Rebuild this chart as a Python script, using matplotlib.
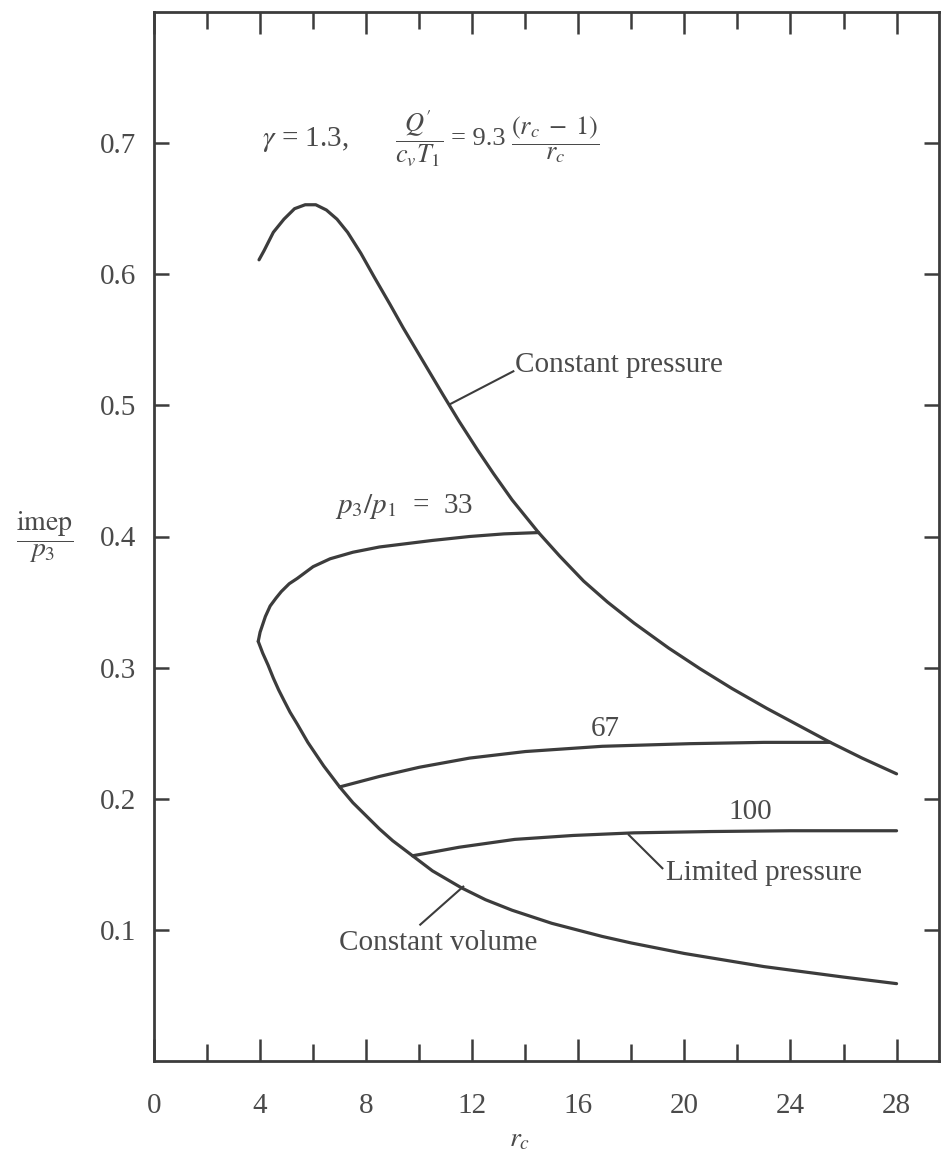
import numpy as np
import matplotlib
matplotlib.use("Agg")
import matplotlib.pyplot as plt
from matplotlib.ticker import FixedLocator

plt.rcParams['font.family'] = ['Liberation Serif', 'DejaVu Serif']
plt.rcParams['mathtext.fontset'] = 'stix'

ink = '#3c3c3c'
txt = '#4a4a4a'

# curves: r_c, imep/p3
cp_r = [3.96, 4.15, 4.5, 4.9, 5.3, 5.7, 6.1, 6.5, 6.9, 7.3, 7.8, 8.3, 8.9, 9.4,
        9.9, 10.4, 10.9, 11.5, 12.2, 12.8, 13.5, 14.5, 15.3, 16.2, 17.1, 18.1,
        19.4, 20.6, 21.8, 23.1, 24.3, 25.5, 26.7, 28.0]
cp_y = [0.611, 0.618, 0.632, 0.642, 0.650, 0.653, 0.653, 0.649, 0.642, 0.632,
        0.616, 0.598, 0.577, 0.559, 0.542, 0.525, 0.508, 0.488, 0.466, 0.448,
        0.428, 0.403, 0.385, 0.366, 0.350, 0.334, 0.315, 0.299, 0.284, 0.269,
        0.256, 0.243, 0.231, 0.219]

cv_r = [3.93, 4.1, 4.3, 4.5, 4.7, 4.9, 5.13, 5.4, 5.8, 6.1, 6.4, 6.7, 7.0, 7.5,
        8.0, 8.5, 9.0, 9.75, 10.5, 11.6, 12.5, 13.5, 15.0, 16.9, 18.0, 19.0,
        20.0, 21.5, 23.0, 24.5, 26.0, 28.0]
cv_y = [0.320, 0.311, 0.302, 0.292, 0.283, 0.275, 0.266, 0.257, 0.243, 0.234,
        0.225, 0.217, 0.209, 0.197, 0.187, 0.177, 0.168, 0.1565, 0.145, 0.132,
        0.123, 0.115, 0.105, 0.095, 0.090, 0.086, 0.082, 0.077, 0.072, 0.068,
        0.064, 0.059]

p33_r = [3.93, 4.0, 4.2, 4.38, 4.6, 4.8, 5.1, 5.4, 6.0, 6.64, 7.5, 8.5, 9.3,
         10.5, 11.9, 13.2, 14.5]
p33_y = [0.320, 0.327, 0.339, 0.347, 0.353, 0.358, 0.364, 0.368, 0.377, 0.383,
         0.388, 0.392, 0.394, 0.397, 0.400, 0.402, 0.403]

p67_r = [7.0, 8.5, 10.0, 11.9, 14.0, 16.9, 20.2, 23.0, 25.5]
p67_y = [0.209, 0.217, 0.224, 0.231, 0.236, 0.240, 0.242, 0.243, 0.243]

p100_r = [9.75, 11.5, 13.6, 15.8, 18.1, 21.0, 24.0, 28.0]
p100_y = [0.1565, 0.163, 0.169, 0.172, 0.174, 0.175, 0.1756, 0.1756]

fig = plt.figure(figsize=(9.44, 11.62), dpi=100)
ax = fig.add_axes([154/944, 1-1061/1162, (939-154)/944, (1061-12)/1162])

for xs, ys in [(cp_r, cp_y), (cv_r, cv_y), (p33_r, p33_y), (p67_r, p67_y), (p100_r, p100_y)]:
    ax.plot(xs, ys, color=ink, lw=2.3, solid_capstyle='round', solid_joinstyle='round')

ax.set_xlim(0, 29.6)
ax.set_ylim(0, 0.8)

ax.xaxis.set_major_locator(FixedLocator(np.arange(0, 29, 4)))
ax.xaxis.set_minor_locator(FixedLocator(np.arange(2, 27, 4)))
ax.yaxis.set_major_locator(FixedLocator([0.1, 0.2, 0.3, 0.4, 0.5, 0.6, 0.7]))
ax.set_yticklabels(['0.1', '0.2', '0.3', '0.4', '0.5', '0.6', '0.7'])

ax.tick_params(which='both', direction='in', top=True, right=True, colors=ink,
               labelcolor=txt, labelsize=21, width=1.8)
ax.tick_params(axis='x', which='major', length=16, pad=23)
ax.tick_params(axis='x', which='minor', length=12)
ax.tick_params(axis='y', which='major', length=11, pad=13)
for s in ax.spines.values():
    s.set_color(ink)
    s.set_linewidth(2.0)

# labels
fs = 21
ax.text(4.08, 0.703, r'$\gamma$ = 1.3,', fontsize=fs, color=txt, va='center')
ax.text(9.1, 0.703, r'$\dfrac{Q^{\prime}}{c_v T_1}$', fontsize=19, color=txt, va='center')
ax.text(11.2, 0.703, '= 9.3', fontsize=19, color=txt, va='center')
ax.text(13.45, 0.703, r'$\dfrac{(r_c\;-\;1)}{r_c}$', fontsize=19, color=txt, va='center')

ax.text(13.6, 0.531, 'Constant pressure', fontsize=fs, color=txt, va='center')
ax.plot([11.17, 13.55], [0.501, 0.526], color=ink, lw=1.5)

ax.text(6.83, 0.423, r'$p_3/p_1$  =  33', fontsize=fs, color=txt, va='center')
ax.text(17.0, 0.253, '67', fontsize=fs, color=txt, va='center', ha='center')
ax.text(22.5, 0.190, '100', fontsize=fs, color=txt, va='center', ha='center')

ax.text(19.3, 0.1435, 'Limited pressure', fontsize=fs, color=txt, va='center')
ax.plot([17.9, 19.17], [0.1725, 0.147], color=ink, lw=1.5)

ax.text(10.7, 0.090, 'Constant volume', fontsize=fs, color=txt, va='center', ha='center')
ax.plot([11.66, 10.04], [0.133, 0.104], color=ink, lw=1.5)

fig.text(45/944, 1-537/1162, r'$\dfrac{\mathrm{imep}}{p_3}$', fontsize=20, color=txt,
         ha='center', va='center')
fig.text(520/944, 1-1140/1162, r'$r_c$', fontsize=20, color=txt, ha='center', va='center')

fig.savefig('out.png', dpi=100)
